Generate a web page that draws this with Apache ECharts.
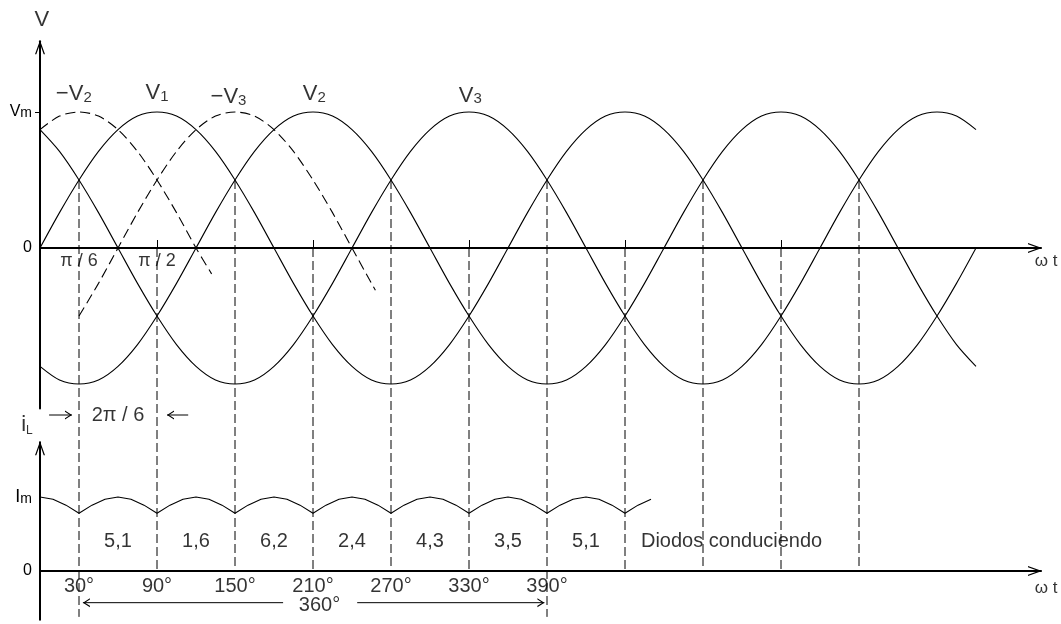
<!DOCTYPE html>
<html><head><meta charset="utf-8">
<script src="https://cdn.jsdelivr.net/npm/echarts@6/dist/echarts.min.js"></script>
<style>html,body{margin:0;padding:0;background:#fff}#c{width:1061px;height:624px}</style>
</head><body><div id="c"></div>
<script>
// ---------- data (angles in degrees, values per unit) ----------
const voltDeg = [0,15,30,45,60,75,90,105,120,135,150,165,180,195,210,225,240,255,270,285,300,315,330,345,360,375,390,405,420,435,450,465,480,495,510,525,540,555,570,585,600,615,630,645,660,675,690,705,720];
const v1 = [0,.26,.5,.71,.87,.97,1,.97,.87,.71,.5,.26,0,-.26,-.5,-.71,-.87,-.97,-1,-.97,-.87,-.71,-.5,-.26,0,.26,.5,.71,.87,.97,1,.97,.87,.71,.5,.26,0,-.26,-.5,-.71,-.87,-.97,-1,-.97,-.87,-.71,-.5,-.26,0];
const v2 = [-.87,-.97,-1,-.97,-.87,-.71,-.5,-.26,0,.26,.5,.71,.87,.97,1,.97,.87,.71,.5,.26,0,-.26,-.5,-.71,-.87,-.97,-1,-.97,-.87,-.71,-.5,-.26,0,.26,.5,.71,.87,.97,1,.97,.87,.71,.5,.26,0,-.26,-.5,-.71,-.87];
const v3 = [.87,.71,.5,.26,0,-.26,-.5,-.71,-.87,-.97,-1,-.97,-.87,-.71,-.5,-.26,0,.26,.5,.71,.87,.97,1,.97,.87,.71,.5,.26,0,-.26,-.5,-.71,-.87,-.97,-1,-.97,-.87,-.71,-.5,-.26,0,.26,.5,.71,.87,.97,1,.97,.87];
const negV2Deg = [0,15,30,45,60,75,90,105,120,132];
const negV2 = [.87,.97,1,.97,.87,.71,.5,.26,0,-.19];
const negV3Deg = [30,45,60,75,90,105,120,135,150,165,180,195,210,225,240,255,258];
const negV3 = [-.5,-.26,0,.26,.5,.71,.87,.97,1,.97,.87,.71,.5,.26,0,-.26,-.31];
const iLDeg = [0,10,20,30,40,50,60,70,80,90,100,110,120,130,140,150,160,170,180,190,200,210,220,230,240,250,260,270,280,290,300,310,320,330,340,350,360,370,380,390,400,410,420,430,440,450,460,470];
const iL = [1,.97,.89,.78,.89,.97,1,.97,.89,.78,.89,.97,1,.97,.89,.78,.89,.97,1,.97,.89,.78,.89,.97,1,.97,.89,.78,.89,.97,1,.97,.89,.78,.89,.97,1,.97,.89,.78,.89,.97,1,.97,.89,.78,.89,.97];

// commutation lines: angle, start level (upper plot), end level (lower plot)
const vertDeg = [30,90,150,210,270,330,390,450,510,570,630];
const vertTop = [.5,0,.5,0,.5,0,.5,0,.5,0,.5];
const vertBottom = [-.62,0,0,0,0,0,-.62,0,0,0,0];

// tick marks / tick labels
const topTickDeg = [90,210,330,450,570];
const topLabelDeg = [30,90];
const topLabelText = ['π / 6','π / 2'];
const lowLabelDeg = [30,90,150,210,270,330,390];
const lowLabelText = ['30°','90°','150°','210°','270°','330°','390°'];

// annotations (upper plot)
const topNoteText = ['{v|−V}{s|2}','{v|V}{s|1}','{v|−V}{s|3}','{v|V}{s|2}','{v|V}{s|3}','{v|V}','{t|2π / 6}','{w|ω t}'];
const topNoteDeg  = [26,90,145,211,331,1.5,60,774];
const topNoteVal  = [1.13,1.14,1.11,1.13,1.12,1.68,-1.228,-0.1];
// annotations (lower plot)
const lowNoteText = ['5,1','1,6','6,2','2,4','4,3','3,5','5,1','Diodos conduciendo','360°','{i|i}{l|L}','{w|ω t}'];
const lowNoteDeg  = [60,120,180,240,300,360,420,532,215,-10,774];
const lowNoteVal  = [.405,.405,.405,.405,.405,.405,.405,.405,-.47,1.97,-0.23];

// span arrows
const spanFrom = [7,114], spanTo = [24.6,97.7], spanLevel = -1.228;      // 2π/6 (upper)
const fullFrom = [187,244], fullTo = [33,388], fullLevel = -0.428;       // 360° (lower)

// ---------- layout ----------
const TOP_ZERO_Y = 248, TOP_UNIT = 136, LOW_ZERO_Y = 571, LOW_UNIT = 74;
const X0 = 40, PX_PER_DEG = 1.3, X_MAX = 770;
const TOP_MAX = 1.52, TOP_MIN = -1.18, LOW_MAX = 1.74, LOW_MIN = -0.66;
const TOP_LABEL_LEVEL = -0.096, LOW_LABEL_LEVEL = -0.216;
const FONT = '"Liberation Sans", Arial, sans-serif';
const AXIS_ARROW = 'path://M5,0 L10,14 L8.7,14 L5,3.6 L1.3,14 L0,14 Z';
const SMALL_ARROW = 'path://M4.5,0 L9,7 L7.7,7 L4.5,2 L1.3,7 L0,7 Z';
const lowToTop = v => (TOP_ZERO_Y - (LOW_ZERO_Y - v * LOW_UNIT)) / TOP_UNIT;

const zip = (xs, ys) => xs.map((x, i) => [x, ys[i]]);
const curve = (xs, ys, g, dash, smooth) => ({
  type: 'line', xAxisIndex: g, yAxisIndex: g, data: zip(xs, ys),
  showSymbol: false, symbol: 'none', smooth: smooth, silent: true, z: 3,
  lineStyle: { color: '#000', width: 1.1, type: dash || 'solid' }
});
const vData = [];
vertDeg.forEach((d, i) => { vData.push([d, vertTop[i]], [d, lowToTop(vertBottom[i])], [d, '-']); });

const arrow = (g, from, to, level) => ({
  type: 'line', xAxisIndex: g, yAxisIndex: g, clip: false, silent: true, showSymbol: true,
  itemStyle: { color: '#000', borderWidth: 0 }, lineStyle: { color: '#000', width: 1 },
  data: [
    { value: [from, level], symbol: 'none' },
    { value: [to, level], symbol: SMALL_ARROW, symbolSize: [9, 7],
      symbolRotate: to > from ? -90 : 90, symbolOffset: [to > from ? -3.5 : 3.5, 0] }
  ]
});
const rich = {
  v: { fontSize: 22, fontFamily: FONT, color: '#000', verticalAlign: 'bottom' },
  s: { fontSize: 15, fontFamily: FONT, color: '#000', verticalAlign: 'bottom' },
  t: { fontSize: 20, fontFamily: FONT, color: '#000' },
  w: { fontSize: 17, fontFamily: FONT, color: '#000' },
  p: { fontSize: 18, fontFamily: FONT, color: '#000' },
  i: { fontSize: 22, fontFamily: FONT, color: '#000', verticalAlign: 'bottom' },
  l: { fontSize: 12, fontFamily: FONT, color: '#000', verticalAlign: 'bottom' }
};
const notes = (g, texts, degs, vals, size) => ({
  type: 'scatter', xAxisIndex: g, yAxisIndex: g, clip: false, silent: true,
  symbol: 'circle', symbolSize: 1, itemStyle: { color: 'rgba(0,0,0,0)' },
  data: zip(degs, vals),
  label: { show: true, position: 'inside', color: '#000', fontFamily: FONT, fontSize: size,
    formatter: p => texts[p.dataIndex], rich: rich }
});

const xAxisBase = (g) => ({
  type: 'value', gridIndex: g, min: 0, max: X_MAX, splitLine: { show: false },
  axisLabel: { show: false },
  axisLine: { show: true, onZero: true, lineStyle: { color: '#000', width: 2 },
    symbol: ['none', AXIS_ARROW], symbolSize: [10, 14], symbolOffset: [0, -6] }
});
const yAxisBase = (g, min, max) => ({
  type: 'value', gridIndex: g, min: min, max: max, splitLine: { show: false },
  axisLine: { show: true, onZero: false, lineStyle: { color: '#000', width: 2 },
    symbol: ['none', AXIS_ARROW], symbolSize: [10, 14], symbolOffset: [0, -6] }
});

const chart = echarts.init(document.getElementById('c'), null, { renderer: 'canvas' });
chart.setOption({
  animation: false,
  backgroundColor: '#fff',
  textStyle: { fontFamily: FONT, color: '#000' },
  grid: [
    { left: X0, width: X_MAX * PX_PER_DEG, top: TOP_ZERO_Y - TOP_MAX * TOP_UNIT,
      height: (TOP_MAX - TOP_MIN) * TOP_UNIT, outerBoundsMode: 'none', containLabel: false },
    { left: X0, width: X_MAX * PX_PER_DEG, top: LOW_ZERO_Y - LOW_MAX * LOW_UNIT,
      height: (LOW_MAX - LOW_MIN) * LOW_UNIT, outerBoundsMode: 'none', containLabel: false }
  ],
  xAxis: [
    Object.assign(xAxisBase(0), {
      axisTick: { show: true, customValues: topTickDeg, inside: true, length: 8, lineStyle: { color: '#000', width: 1 } }
    }),
    Object.assign(xAxisBase(1), { axisTick: { show: false } })
  ],
  yAxis: [
    Object.assign(yAxisBase(0, TOP_MIN, TOP_MAX), {
      axisTick: { show: true, customValues: [1], length: 5, lineStyle: { color: '#000', width: 1 } },
      axisLabel: { show: true, customValues: [0, 1], margin: 8, color: '#000', fontFamily: FONT,
        formatter: v => v === 1 ? '{a|V}{b|m}' : (v === 0 ? '{z|0}' : ''),
        rich: { a: { fontSize: 16, fontFamily: FONT, color: '#000', verticalAlign: 'bottom' },
                b: { fontSize: 14, fontFamily: FONT, color: '#000', verticalAlign: 'bottom' },
                z: { fontSize: 16, fontFamily: FONT, color: '#000' } } }
    }),
    Object.assign(yAxisBase(1, LOW_MIN, LOW_MAX), {
      axisTick: { show: false },
      axisLabel: { show: true, customValues: [0, 1], margin: 8, color: '#000', fontFamily: FONT,
        formatter: v => v === 1 ? '{a|I}{b|m}' : (v === 0 ? '{z|0}' : ''),
        rich: { a: { fontSize: 18, fontFamily: FONT, color: '#000', verticalAlign: 'bottom' },
                b: { fontSize: 14, fontFamily: FONT, color: '#000', verticalAlign: 'bottom' },
                z: { fontSize: 16, fontFamily: FONT, color: '#000' } } }
    })
  ],
  series: [
    curve(voltDeg, v1, 0, null, 0.3),
    curve(voltDeg, v2, 0, null, 0.3),
    curve(voltDeg, v3, 0, null, 0.3),
    curve(negV2Deg, negV2, 0, [10, 5], 0.3),
    curve(negV3Deg, negV3, 0, [10, 5], 0.3),
    curve(iLDeg, iL, 1, null, false),
    { type: 'line', xAxisIndex: 0, yAxisIndex: 0, data: vData, clip: false, silent: true,
      showSymbol: false, symbol: 'none', connectNulls: false,
      lineStyle: { color: '#000', width: 1, type: [9, 4] } },
    arrow(0, spanFrom[0], spanTo[0], spanLevel),
    arrow(0, spanFrom[1], spanTo[1], spanLevel),
    arrow(1, fullFrom[0], fullTo[0], fullLevel),
    arrow(1, fullFrom[1], fullTo[1], fullLevel),
    notes(0, topNoteText, topNoteDeg, topNoteVal, 20),
    notes(1, lowNoteText, lowNoteDeg, lowNoteVal, 20),
    notes(0, topLabelText.map(t => '{p|' + t + '}'), topLabelDeg, topLabelDeg.map(() => TOP_LABEL_LEVEL), 18),
    notes(1, lowLabelText, lowLabelDeg, lowLabelDeg.map(() => LOW_LABEL_LEVEL), 20)
  ]
});
</script>
</body></html>
